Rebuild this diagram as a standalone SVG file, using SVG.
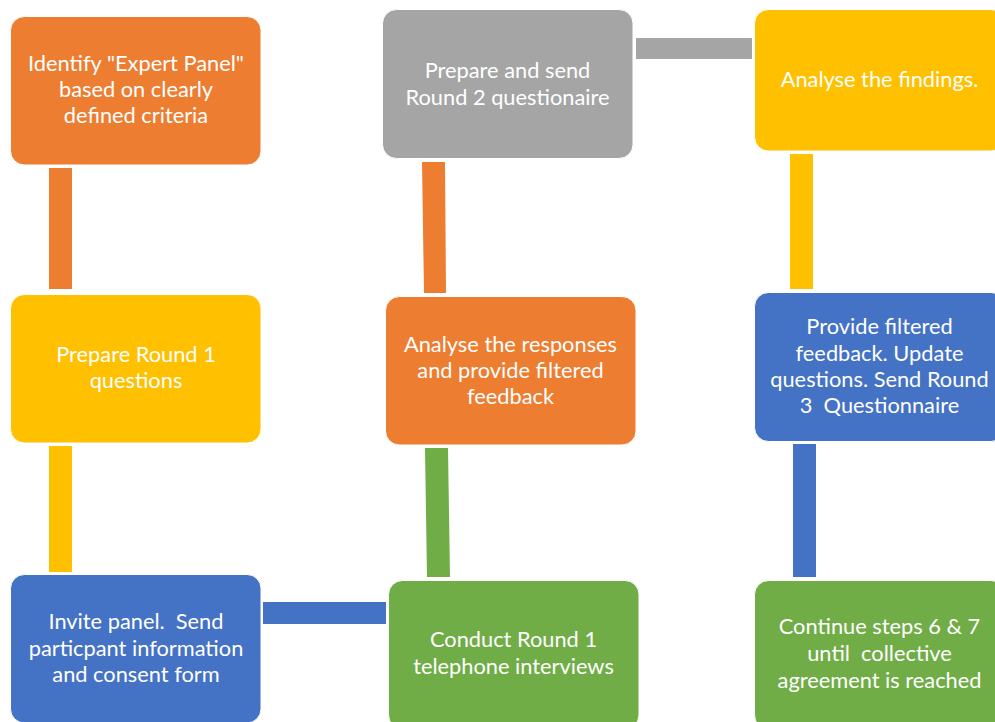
<svg xmlns="http://www.w3.org/2000/svg" width="995" height="722" viewBox="0 0 995 722">
<style>
.box{stroke:#ffffff;stroke-width:1}
.t{font-family:Lato,"Open Sans","Liberation Sans",sans-serif;font-size:21.8px;fill:#ffffff;text-anchor:middle;white-space:pre}
.or{fill:#ED7D31}.ye{fill:#FFC000}.bl{fill:#4472C4}.gr{fill:#70AD47}.gy{fill:#A5A5A5}
</style>
<rect width="995" height="722" fill="#ffffff"/>
<g id="connectors">
<rect class="or" x="49" y="168" width="23" height="121"/>
<rect class="ye" x="49" y="446" width="23" height="126"/>
<rect class="bl" x="263" y="602" width="123" height="22"/>
<polygon class="gr" points="425,448 448,448 450,577 427,577"/>
<polygon class="or" points="422,162 445,162 446,293 424,293"/>
<rect class="gy" x="636" y="38" width="116" height="21"/>
<rect class="ye" x="790" y="154" width="23" height="135"/>
<rect class="bl" x="793" y="444" width="23" height="133"/>
</g>
<g id="n1">
<rect class="box or" x="10.5" y="16.5" width="250.5" height="148.5" rx="14"/>
<text class="t" x="136" y="71">Identify "Expert Panel"</text>
<text class="t" x="136" y="97">based on clearly</text>
<text class="t" x="136" y="123">defined criteria</text>
</g>
<g id="n2">
<rect class="box ye" x="10.5" y="294.5" width="250.5" height="148.5" rx="14"/>
<text class="t" x="136" y="362">Prepare Round 1</text>
<text class="t" x="136" y="388">questions</text>
</g>
<g id="n3">
<rect class="box bl" x="10.5" y="574.5" width="250.5" height="148.5" rx="14"/>
<text class="t" x="136" y="629" xml:space="preserve">Invite panel.  Send</text>
<text class="t" x="136" y="656">particpant information</text>
<text class="t" x="136" y="682">and consent form</text>
</g>
<g id="n4">
<rect class="box gr" x="388.5" y="580.5" width="250.5" height="148.5" rx="14"/>
<text class="t" x="513.5" y="647">Conduct Round 1</text>
<text class="t" x="513.5" y="674">telephone interviews</text>
</g>
<g id="n5">
<rect class="box or" x="385.5" y="296.5" width="250.5" height="148.5" rx="14"/>
<text class="t" x="510.5" y="352">Analyse the responses</text>
<text class="t" x="510.5" y="378">and provide filtered</text>
<text class="t" x="510.5" y="404">feedback</text>
</g>
<g id="n6">
<rect class="box gy" x="382.5" y="9.5" width="250.5" height="149" rx="14"/>
<text class="t" x="507.5" y="78">Prepare and send</text>
<text class="t" x="507.5" y="105">Round 2 questionaire</text>
</g>
<g id="n7">
<rect class="box ye" x="754.5" y="9.5" width="250.5" height="141.5" rx="14"/>
<text class="t" x="879.5" y="87">Analyse the findings.</text>
</g>
<g id="n8">
<rect class="box bl" x="754.5" y="292.5" width="250.5" height="149" rx="14"/>
<text class="t" x="879.5" y="334">Provide filtered</text>
<text class="t" x="879.5" y="361">feedback. Update</text>
<text class="t" x="879.5" y="387">questions. Send Round</text>
<text class="t" x="879.5" y="413" xml:space="preserve">3  Questionnaire</text>
</g>
<g id="n9">
<rect class="box gr" x="754.5" y="580.5" width="250.5" height="148.5" rx="14"/>
<text class="t" x="879.5" y="634">Continue steps 6 &amp; 7</text>
<text class="t" x="879.5" y="661" xml:space="preserve">until  collective</text>
<text class="t" x="879.5" y="688">agreement is reached</text>
</g>
</svg>
